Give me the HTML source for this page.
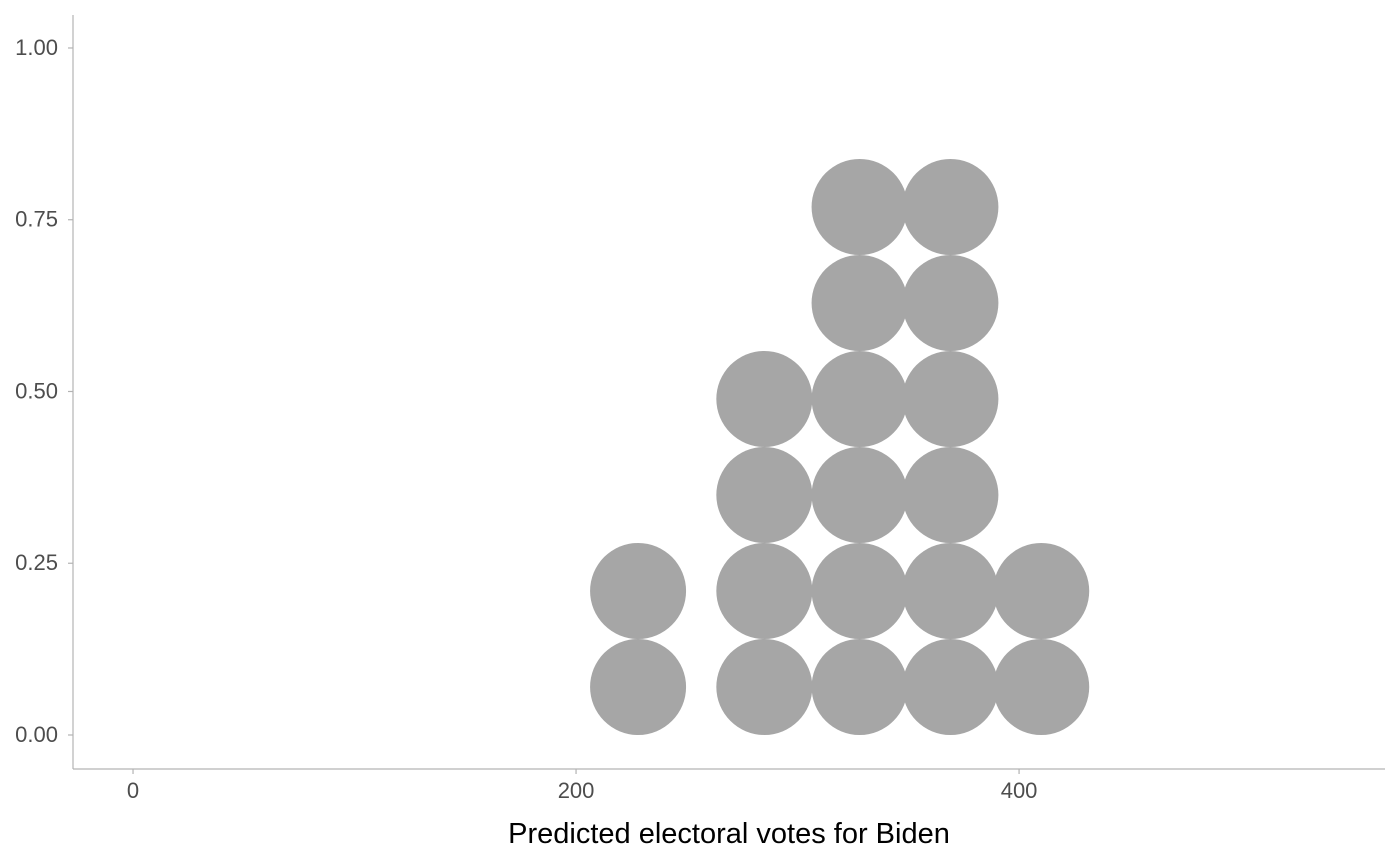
<!DOCTYPE html>
<html><head><meta charset="utf-8"><style>
body{margin:0;background:#fff;}
svg{display:block;font-family:"Liberation Sans",Arial,sans-serif;}
</style></head><body>
<svg id="chart" width="1400" height="865" viewBox="0 0 1400 865" xmlns="http://www.w3.org/2000/svg">
<g id="axes"></g>
<g id="dots"></g>
<text x="729" y="843" text-anchor="middle" font-size="29" fill="#000">Predicted electoral votes for Biden</text>
</svg>
<script>
const binCenters = [228, 285, 328, 369, 410];
const binCounts = [2, 4, 6, 6, 2];
const xTicks = [0, 200, 400];
const yTicks = [0, 0.25, 0.5, 0.75, 1.0];
const yTickLabels = ["0.00", "0.25", "0.50", "0.75", "1.00"];

const NS = "http://www.w3.org/2000/svg";
const pLeft = 73, pRight = 1385, pTop = 15, pBottom = 769;
const xMin = -27.1, xMax = 565.2, yMin = -0.0495, yMax = 1.048;
const xs = v => pLeft + (v - xMin) / (xMax - xMin) * (pRight - pLeft);
const ys = v => pBottom - (v - yMin) / (yMax - yMin) * (pBottom - pTop);
const dotDiam = 96;
const stepY = dotDiam / (ys(0) - ys(1));

function mk(tag, attrs, parent) {
  const e = document.createElementNS(NS, tag);
  for (const k in attrs) e.setAttribute(k, attrs[k]);
  parent.appendChild(e);
  return e;
}
const axesG = document.getElementById('axes');
const dotsG = document.getElementById('dots');

let l = mk('line', {x1: pLeft, y1: pTop, x2: pLeft, y2: pBottom, stroke: '#b3b3b3', 'stroke-width': 1.2}, axesG);


l = mk('line', {x1: pLeft, y1: pBottom, x2: pRight, y2: pBottom, stroke: '#b3b3b3', 'stroke-width': 1.2}, axesG);



yTicks.forEach((v, i) => {
  const y = ys(v);
  const t = mk('line', {x1: pLeft - 5, y1: y, x2: pLeft, y2: y, stroke: '#b3b3b3', 'stroke-width': 1.2}, axesG);
  
  
  const tx = mk('text', {x: pLeft - 15, y: y + 7, 'text-anchor': 'end', 'font-size': 22, fill: '#4d4d4d'}, axesG);
  tx.textContent = yTickLabels[i];
  
  
});
xTicks.forEach(v => {
  const x = xs(v);
  const t = mk('line', {x1: x, y1: pBottom, x2: x, y2: pBottom + 5, stroke: '#b3b3b3', 'stroke-width': 1.2}, axesG);
  
  
  const tx = mk('text', {x: x, y: pBottom + 29, 'text-anchor': 'middle', 'font-size': 22, fill: '#4d4d4d'}, axesG);
  tx.textContent = String(v);
  
  
});

binCenters.forEach((c, b) => {
  for (let i = 0; i < binCounts[b]; i++) {
    const d = mk('circle', {cx: xs(c), cy: ys((i + 0.5) * stepY), r: dotDiam / 2, fill: '#a6a6a6'}, dotsG);
    
    
  }
});
</script>
</body></html>
